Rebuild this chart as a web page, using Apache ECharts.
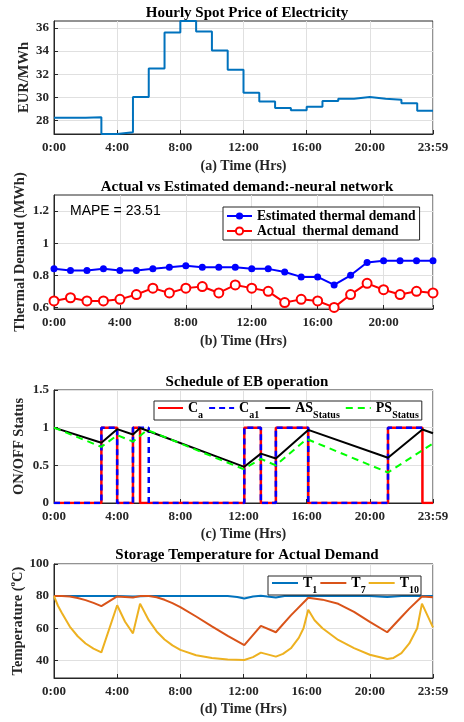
<!DOCTYPE html>
<html><head><meta charset="utf-8">
<script src="https://cdn.jsdelivr.net/npm/echarts@6/dist/echarts.min.js"></script>
<style>html,body{margin:0;padding:0;background:#fff}#c{width:464px;height:722px}</style>
</head><body><div id="c"></div>
<script>
// (a) hourly spot price, value for hour i..i+1
const priceHours = [0,1,2,3,4,5,6,7,8,9,10,11,12,13,14,15,16,17,18,19,20,21,22,23,24];
const priceValues = [28.25,28.25,28.3,26.85,27.0,30.05,32.5,35.6,36.6,35.7,34.05,32.4,30.4,29.65,29.1,28.9,29.2,29.7,29.9,30.05,29.9,29.8,29.5,28.85,28.85];
const priceTicks = [28,30,32,34,36];

// (b) demand
const demandHours = [0,1,2,3,4,5,6,7,8,9,10,11,12,13,14,15,16,17,18,19,20,21,22,23];
const estimatedDemand = [0.84,0.83,0.83,0.84,0.83,0.83,0.84,0.85,0.86,0.85,0.85,0.85,0.84,0.84,0.82,0.79,0.79,0.74,0.80,0.88,0.89,0.89,0.89,0.89];
const actualDemand = [0.64,0.66,0.64,0.64,0.65,0.68,0.72,0.69,0.72,0.73,0.69,0.74,0.72,0.70,0.63,0.65,0.64,0.60,0.68,0.75,0.71,0.68,0.70,0.69];
const demandTicks = [0.6,0.8,1,1.2];

// (c) schedule: [time, status]
const caSchedule = [[0,0],[3,1],[4,0],[5,1],[5.45,0],[12.05,1],[13.1,0],[14.05,1],[16.1,0],[21.15,1],[23.33,0],[24,0]];
const ca1Schedule = [[0,0],[3,1],[4,0],[5,1],[6,0],[12.05,1],[13.1,0],[14.05,1],[16.1,0],[21.15,1],[23.33,1]];
const asStatus = [[0,1],[3,0.8],[4,0.98],[5,0.91],[5.45,0.995],[12.05,0.48],[13.1,0.655],[14.05,0.59],[16.1,0.97],[21.15,0.6],[23.33,0.975],[24,0.925]];
const psStatus = [[0,1],[3,0.745],[4,0.9],[5,0.815],[5.9,0.97],[12,0.45],[13.1,0.585],[14.05,0.5],[16,0.85],[21.15,0.405],[24,0.79]];

// (d) storage temperatures: [time, degC]
const t1Data = [[0,80],[3,80],[4,80],[5,79.8],[6,80],[11,80],[11.6,79.5],[12.05,78.5],[12.6,79.7],[13.1,80.2],[14.05,79.2],[14.6,80],[16,80],[20,80],[21.1,79.4],[22,80],[24,80]];
const t7Data = [[0,80],[0.5,80],[1,79.7],[1.5,78.8],[2,77.5],[2.5,75.8],[3,73.8],[4,79.8],[5,79.2],[5.45,80],[6,80],[6.5,79.3],[7,77.7],[7.5,75.6],[8,73.2],[9,67.3],[10,61.2],[11,55.2],[12.05,49.5],[13.1,61.5],[14.05,57.5],[15,68],[16.1,79],[17,77.8],[18,75.2],[19,70.2],[20,64],[21.1,57.5],[22,67],[22.5,72.2],[23.3,79.8],[24,79.3]];
const t10Data = [[0,80],[0.25,74],[0.5,69.5],[1,61],[1.5,55],[2,50.5],[2.5,47.3],[3,45],[4,74.3],[4.5,64],[5,56.8],[5.45,75.3],[6,65],[6.5,58],[7,53],[7.5,49.3],[8,46.5],[9,43.2],[10,41.5],[11,40.5],[12.05,40.2],[12.6,42],[13.1,44.8],[14.05,42.3],[14.5,44],[15,47.5],[15.5,54],[15.8,60],[16.1,71.5],[16.5,65],[17,60],[18,52.7],[19,47.6],[20,43.5],[21.1,40.8],[21.5,41.5],[22,44.5],[22.5,50.5],[23,60],[23.3,75.3],[24,60.5]];
const tempTicks = [40,60,80,100];

const SERIF = '"Liberation Serif", "Times New Roman", serif';
const AX = '#262626';
const GRIDC = '#e0e0e0';

function xAxisFor(idx, max, name, gap){
  return {
    gridIndex: idx, type:'value', min:0, max:max, interval:4,
    name:name, nameLocation:'middle', nameGap:gap, nameMoveOverlap:false,
    nameTextStyle:{fontFamily:SERIF, fontWeight:'bold', fontSize:14, color:AX},
    axisLine:{show:true, onZero:false, lineStyle:{color:AX, width:1}},
    axisTick:{show:true, inside:true, length:4, lineStyle:{color:AX}},
    splitLine:{show:true, lineStyle:{color:GRIDC, width:1}},
    axisLabel:{fontFamily:SERIF, fontWeight:'bold', fontSize:13, color:AX, margin:7,
      formatter:function(v){ if (v===24) return '23:59'; if (v%4!==0) return ''; return v+':00'; }}
  };
}
function yAxisFor(idx, min, max, opts){
  const a = {
    gridIndex: idx, type:'value', min:min, max:max,
    name:opts.name, nameLocation:'middle', nameGap:opts.gap, nameMoveOverlap:false,
    nameTextStyle:{fontFamily:SERIF, fontWeight:'bold', fontSize:14.5, color:AX, rich:opts.rich},
    axisLine:{show:true, onZero:false, lineStyle:{color:AX, width:1}},
    axisTick:{show:true, inside:true, length:4, lineStyle:{color:AX}},
    splitLine:{show:true, lineStyle:{color:GRIDC, width:1}},
    axisLabel:{fontFamily:SERIF, fontWeight:'bold', fontSize:13, color:AX, margin:5}
  };
  if (opts.interval) a.interval = opts.interval;
  if (opts.splitNumber) a.splitNumber = opts.splitNumber;
  if (opts.ticks){ a.axisLabel.customValues = opts.ticks; a.axisTick.customValues = opts.ticks; }
  return a;
}

const gridBox = {show:true, borderColor:AX, borderWidth:1, backgroundColor:'#fff', left:54, width:379};
const titleStyle = {fontFamily:SERIF, fontWeight:'bold', fontSize:15, color:'#000'};
const richLeg = {
  m:{fontFamily:SERIF, fontWeight:'bold', fontSize:14, color:'#000', verticalAlign:'middle', lineHeight:24},
  s:{fontFamily:SERIF, fontWeight:'bold', fontSize:10, color:'#000', verticalAlign:'bottom', lineHeight:24}
};
const legendLabels = {
  'C_a':'{m|C}{s|a}', 'C_a1':'{m|C}{s|a1}', 'AS':'{m|AS}{s|Status}', 'PS':'{m|PS}{s|Status}',
  'T_1':'{m|T}{s|1}', 'T_7':'{m|T}{s|7}', 'T_10':'{m|T}{s|10}'
};

const option = {
  animation:false,
  backgroundColor:'#fff',
  title:[
    {text:'Hourly Spot Price of Electricity', left:242, top:1, textAlign:'center', textStyle:titleStyle},
    {text:'Actual vs Estimated demand:-neural network', left:242, top:175, textAlign:'center', textStyle:titleStyle},
    {text:'Schedule of EB operation', left:242, top:370, textAlign:'center', textStyle:titleStyle},
    {text:'Storage Temperature for Actual Demand', left:242, top:543, textAlign:'center', textStyle:titleStyle}
  ],
  grid:[
    Object.assign({}, gridBox, {top:21, height:113}),
    Object.assign({}, gridBox, {top:195, height:114}),
    Object.assign({}, gridBox, {top:390, height:113}),
    Object.assign({}, gridBox, {top:564, height:114})
  ],
  xAxis:[
    xAxisFor(0, 24, '(a) Time (Hrs)', 25),
    xAxisFor(1, 23, '(b) Time (Hrs)', 25),
    xAxisFor(2, 24, '(c) Time (Hrs)', 24),
    xAxisFor(3, 24, '(d) Time (Hrs)', 24)
  ],
  yAxis:[
    yAxisFor(0, 26.85, 36.6, {name:'EUR/MWh', gap:22, splitNumber:5, ticks:priceTicks}),
    yAxisFor(1, 0.59, 1.3, {name:'Thermal Demand (MWh)', gap:26, splitNumber:3, ticks:demandTicks}),
    yAxisFor(2, 0, 1.5, {name:'ON/OFF Status', gap:27, interval:0.5}),
    yAxisFor(3, 29, 100, {name:'Temperature ({sup|o}C)', gap:26, splitNumber:4, ticks:tempTicks,
      rich:{sup:{fontFamily:SERIF, fontWeight:'bold', fontSize:9, color:AX, verticalAlign:'top', lineHeight:20}}})
  ],
  legend:[
    {data:['Estimated thermal demand','Actual  thermal demand'], orient:'vertical', left:223, top:207,
     padding:[2,4,2,3], itemGap:1, itemWidth:25, itemHeight:9,
     backgroundColor:'#fff', borderColor:AX, borderWidth:1, borderRadius:0,
     textStyle:{fontFamily:SERIF, fontWeight:'bold', fontSize:13.6, color:'#000'}},
    {data:['C_a','C_a1','AS','PS'], orient:'horizontal', left:154, top:401,
     padding:[0,3,0,3], itemGap:5, itemWidth:25, itemHeight:10,
     itemStyle:{opacity:0, borderWidth:0},
     backgroundColor:'#fff', borderColor:AX, borderWidth:1, borderRadius:0,
     formatter:function(n){return legendLabels[n];}, textStyle:{rich:richLeg}},
    {data:['T_1','T_7','T_10'], orient:'horizontal', left:268, top:576,
     padding:[0,2,0,3], itemGap:2, itemWidth:26, itemHeight:10,
     itemStyle:{opacity:0, borderWidth:0},
     backgroundColor:'#fff', borderColor:AX, borderWidth:1, borderRadius:0,
     formatter:function(n){return legendLabels[n];}, textStyle:{rich:richLeg}}
  ],
  graphic:[
    {type:'text', left:70, top:204, z:100, style:{text:'MAPE = 23.51', font:'14px "Liberation Sans", Arial, sans-serif', fill:'#000'}}
  ],
  series:[
    {type:'line', name:'price', xAxisIndex:0, yAxisIndex:0, step:'end', symbol:'none',
     data:priceHours.map((h,i)=>[h, priceValues[i]]), lineStyle:{color:'#0072BD', width:2}, itemStyle:{color:'#0072BD'}},
    {type:'line', name:'Estimated thermal demand', xAxisIndex:1, yAxisIndex:1, symbol:'circle', symbolSize:7,
     data:demandHours.map((h,i)=>[h, estimatedDemand[i]]), lineStyle:{color:'#0000ff', width:2}, itemStyle:{color:'#0000ff'}},
    {type:'line', name:'Actual  thermal demand', xAxisIndex:1, yAxisIndex:1, symbol:'emptyCircle', symbolSize:9,
     data:demandHours.map((h,i)=>[h, actualDemand[i]]), lineStyle:{color:'#ff0000', width:2}, itemStyle:{color:'#ff0000', borderWidth:2}},
    {type:'line', name:'C_a', xAxisIndex:2, yAxisIndex:2, step:'end', symbol:'none', data:caSchedule,
     lineStyle:{color:'#ff0000', width:2.5}, itemStyle:{color:'#ff0000'}},
    {type:'line', name:'C_a1', xAxisIndex:2, yAxisIndex:2, step:'end', symbol:'none', data:ca1Schedule,
     lineStyle:{color:'#0000ff', width:2.5, type:[6,4]}, itemStyle:{color:'#0000ff'}},
    {type:'line', name:'AS', xAxisIndex:2, yAxisIndex:2, symbol:'none', data:asStatus,
     lineStyle:{color:'#000', width:2}, itemStyle:{color:'#000'}},
    {type:'line', name:'PS', xAxisIndex:2, yAxisIndex:2, symbol:'none', data:psStatus,
     lineStyle:{color:'#00ff00', width:2, type:[7,5]}, itemStyle:{color:'#00ff00'}},
    {type:'line', name:'T_1', xAxisIndex:3, yAxisIndex:3, symbol:'none', data:t1Data,
     lineStyle:{color:'#0072BD', width:2}, itemStyle:{color:'#0072BD'}},
    {type:'line', name:'T_7', xAxisIndex:3, yAxisIndex:3, symbol:'none', data:t7Data,
     lineStyle:{color:'#D95319', width:2}, itemStyle:{color:'#D95319'}},
    {type:'line', name:'T_10', xAxisIndex:3, yAxisIndex:3, symbol:'none', data:t10Data,
     lineStyle:{color:'#EDB120', width:2}, itemStyle:{color:'#EDB120'}}
  ]
};
const chart = echarts.init(document.getElementById('c'), null, {renderer:'canvas'});
chart.setOption(option);
</script></body></html>
